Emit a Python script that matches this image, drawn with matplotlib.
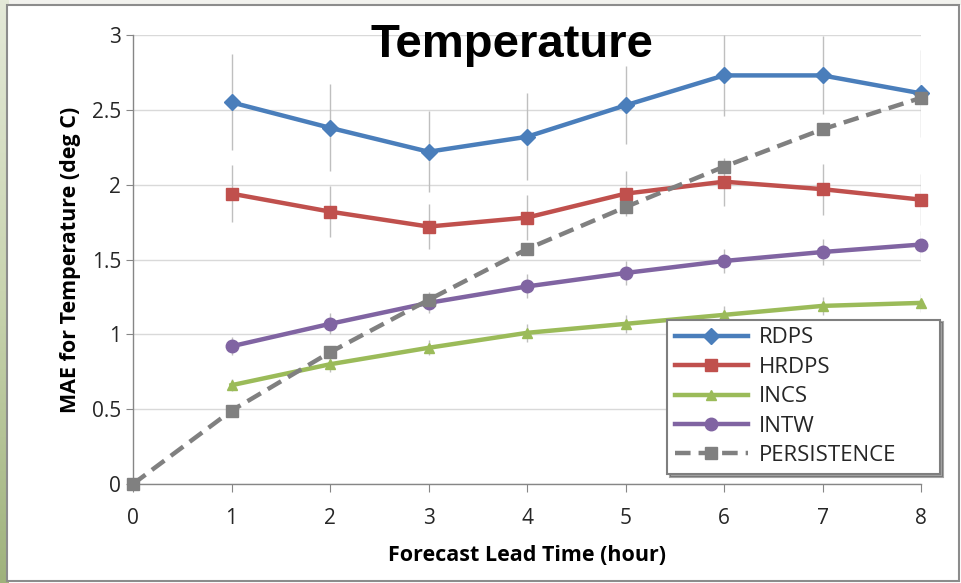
import numpy as np
import matplotlib
matplotlib.use("Agg")
import matplotlib.pyplot as plt
from matplotlib.patches import Rectangle
from matplotlib.colors import LinearSegmentedColormap

hours = [1, 2, 3, 4, 5, 6, 7, 8]
persist_hours = [0, 1, 2, 3, 4, 5, 6, 7, 8]
rdps = [2.55, 2.38, 2.22, 2.32, 2.53, 2.73, 2.73, 2.61]
rdps_err = [0.32, 0.29, 0.27, 0.29, 0.26, 0.27, 0.26, 0.29]
hrdps = [1.94, 1.82, 1.72, 1.78, 1.94, 2.02, 1.97, 1.90]
hrdps_err = [0.19, 0.17, 0.15, 0.15, 0.15, 0.16, 0.17, 0.17]
incs = [0.66, 0.80, 0.91, 1.01, 1.07, 1.13, 1.19, 1.21]
incs_err = [0.04, 0.05, 0.05, 0.06, 0.06, 0.06, 0.06, 0.06]
intw = [0.92, 1.07, 1.21, 1.32, 1.41, 1.49, 1.55, 1.60]
intw_err = [0.06, 0.07, 0.07, 0.08, 0.08, 0.08, 0.09, 0.09]
persistence = [0.0, 0.49, 0.88, 1.23, 1.57, 1.85, 2.12, 2.37, 2.58]
yticks = [0, 0.5, 1, 1.5, 2, 2.5, 3]
ytick_labels = ["0", "0.5", "1", "1.5", "2", "2.5", "3"]
xticks = [0, 1, 2, 3, 4, 5, 6, 7, 8]

W, H = 961, 583
fig = plt.figure(figsize=(W / 100, H / 100), dpi=100)

# background with green gradient strip on the left
bg = fig.add_axes([0, 0, 1, 1])
bg.set_xlim(0, W)
bg.set_ylim(H, 0)
bg.axis("off")
grad = np.linspace(0, 1, 256).reshape(-1, 1)
cm = LinearSegmentedColormap.from_list("g", ["#e4e9d8", "#c9d4b0", "#9fb27c"])
bg.imshow(grad, cmap=cm, extent=[0, 9, H, 0], aspect="auto", zorder=0)
bg.add_patch(Rectangle((9, 0), W - 9, 5, facecolor="#f2f2ee", edgecolor="none", zorder=0))
bg.add_patch(Rectangle((7, 5), W - 9, H - 7, facecolor="white", edgecolor="#8c8c8c", lw=1.5, zorder=1))

ax = fig.add_axes([133 / W, 1 - 484 / H, (921 - 133) / W, (484 - 35) / H])
ax.set_xlim(0, 8)
ax.set_ylim(0, 3)
ax.set_facecolor("none")
for s in ["top", "right"]:
    ax.spines[s].set_visible(False)
for s in ["left", "bottom"]:
    ax.spines[s].set_color("#868686")
    ax.spines[s].set_linewidth(1)
ax.set_yticks(yticks)
ax.set_yticklabels(ytick_labels)
ax.set_xticks(xticks)
ax.grid(axis="y", color="#d9d9d9", lw=1)
ax.set_axisbelow(True)
ax.tick_params(axis="both", colors="#868686", labelcolor="#262626", labelsize=15, length=6, direction="out")
ax.tick_params(axis="y", length=5)
for lab in ax.get_xticklabels() + ax.get_yticklabels():
    lab.set_family("Open Sans")
ax.tick_params(axis="x", pad=11)

errc = "#bfbfbf"
ax.errorbar(hours, rdps, yerr=rdps_err, fmt="none", ecolor=errc, elinewidth=1, zorder=2)
ax.errorbar(hours, hrdps, yerr=hrdps_err, fmt="none", ecolor=errc, elinewidth=1, zorder=2)
ax.errorbar(hours, incs, yerr=incs_err, fmt="none", ecolor=errc, elinewidth=1, zorder=2)
ax.errorbar(hours, intw, yerr=intw_err, fmt="none", ecolor=errc, elinewidth=1, zorder=2)

lw = 3.2
ax.plot(hours, rdps, color="#4a7ebb", lw=lw, marker="D", ms=8, label="RDPS", zorder=4, clip_on=False)
ax.plot(hours, hrdps, color="#c0504d", lw=lw, marker="s", ms=9, label="HRDPS", zorder=4, clip_on=False)
ax.plot(hours, incs, color="#9bbb59", lw=lw, marker="^", ms=7, label="INCS", zorder=4, clip_on=False)
ax.plot(hours, intw, color="#8064a2", lw=lw, marker="o", ms=9, label="INTW", zorder=4, clip_on=False)
ax.plot(persist_hours, persistence, color="#808080", lw=lw, ls=(0, (3.5, 1.8)), marker="s", ms=9,
        label="PERSISTENCE", zorder=5, clip_on=False)

ax.set_ylabel("MAE for Temperature (deg C)", fontsize=15.5, fontweight="bold", family="Open Sans", labelpad=8)
ax.set_xlabel("Forecast Lead Time (hour)", fontsize=15.5, fontweight="bold", family="Open Sans", labelpad=12)

fig.text(512 / W, 1 - 45 / H, "Temperature", fontsize=34, fontweight="bold", family="Liberation Sans",
         ha="center", va="center")

leg = ax.legend(loc="lower right", bbox_to_anchor=((667 - 133) / (921 - 133), (484 - 474) / (484 - 35),
                                                   (940 - 667) / (921 - 133), 0.5),
                mode="expand", frameon=True, fancybox=False, shadow=True, prop={"family": "Open Sans", "size": 16},
                handlelength=3.3, borderaxespad=0, labelspacing=0.38, handletextpad=0.5, borderpad=0.35)
leg.get_frame().set_edgecolor("#7f7f7f")
leg.get_frame().set_linewidth(1.5)
leg.set_zorder(10)
for t in leg.get_texts():
    t.set_color("#262626")

fig.savefig("out.png", dpi=100)
